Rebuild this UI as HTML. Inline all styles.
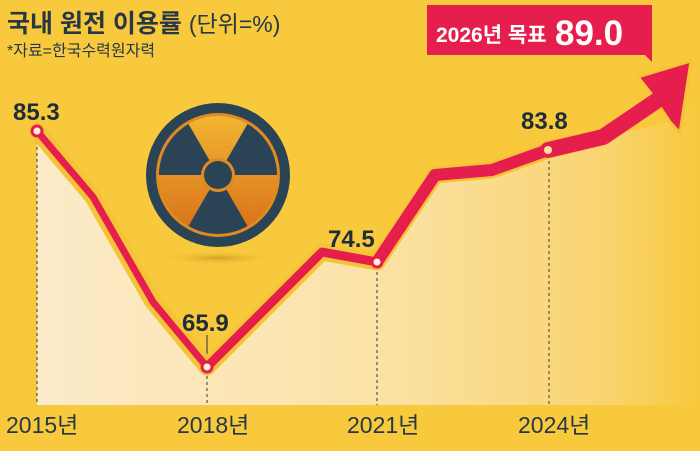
<!DOCTYPE html>
<html><head><meta charset="utf-8"><style>
html,body{margin:0;padding:0;}
body{width:700px;height:446px;overflow:hidden;background:#f8c93c;font-family:"Liberation Sans","Noto Sans CJK KR",sans-serif;}
</style></head><body>
<svg width="700" height="446" viewBox="0 0 700 446" xmlns="http://www.w3.org/2000/svg">
<defs>
<linearGradient id="cream" x1="0" x2="1" y1="0" y2="0">
<stop offset="0" stop-color="#fcebca"/><stop offset="0.5" stop-color="#fbe3a8"/><stop offset="0.85" stop-color="#f9d472"/><stop offset="1" stop-color="#f8c93c"/>
</linearGradient>
<linearGradient id="rad" x1="0" x2="0" y1="0" y2="1">
<stop offset="0" stop-color="#f2b432"/><stop offset="1" stop-color="#d8701a"/>
</linearGradient>
<radialGradient id="shad"><stop offset="0" stop-color="#c98a1a" stop-opacity="0.7"/><stop offset="1" stop-color="#f8c93c" stop-opacity="0"/></radialGradient>
</defs>
<rect width="700" height="446" fill="#f8c93c"/>
<polygon fill="url(#cream)" points="37,131 93,197 153,302 207,367 322,252 377,262 435,175 492,170 548,150 603,137 670,122 700,100 700,405 37,405"/>
<rect x="0" y="405" width="700" height="41" fill="#f8c93c"/>
<g stroke="#555" stroke-width="1.2" stroke-dasharray="3,3">
<line x1="37" y1="135" x2="37" y2="405"/><line x1="207" y1="370" x2="207" y2="405"/>
<line x1="377" y1="266" x2="377" y2="405"/><line x1="549" y1="155" x2="549" y2="405"/>
</g>
<line x1="207" y1="335" x2="207" y2="362" stroke="#333" stroke-width="1"/>
<ellipse cx="218" cy="258" rx="60" ry="7" fill="url(#shad)"/>
<circle cx="218" cy="175" r="72" fill="#2a4455"/>
<circle cx="218" cy="175" r="62" fill="#e08a22"/>
<circle cx="218" cy="175" r="59" fill="url(#rad)"/>
<g fill="#2a4455">
<path d="M218,175 L188.5,124 A59,59 0 0,0 159,175 Z"/>
<path d="M218,175 L277,175 A59,59 0 0,0 247.5,124 Z"/>
<path d="M218,175 L247.5,226 A59,59 0 0,1 188.5,226 Z"/>
</g>
<circle cx="218" cy="175" r="17" fill="#e08a22"/>
<circle cx="218" cy="175" r="14" fill="#2a4455"/>
<g fill="none" stroke-linejoin="round" stroke-linecap="round">
<polyline points="37,131 93,197 153,302 207,367 322,252 377,262 435,175 492,170 548,150 603,137 660,100" stroke="#f5c336" stroke-width="17"/>
<polyline points="37,131 93,197 153,302 207,367" stroke="#e61e4d" stroke-width="7"/>
<polyline points="207,367 322,252 377,262" stroke="#e61e4d" stroke-width="9"/>
<polyline points="377,262 435,175 492,170 548,150" stroke="#e61e4d" stroke-width="12"/>
<polyline points="548,150 603,137 662,97" stroke="#e61e4d" stroke-width="16"/>
</g>
<polygon points="691,61 638,77 650,92 670,122 680,133" fill="#e61e4d" stroke="#f5c336" stroke-width="3" stroke-linejoin="round"/>
<polyline points="603,137 662,97" stroke="#e61e4d" stroke-width="16" fill="none"/>
<g fill="#fdf3d8" stroke="#e61e4d" stroke-width="3">
<circle cx="37" cy="131" r="5"/><circle cx="207" cy="367" r="5"/><circle cx="377" cy="262" r="5"/>
</g>
<circle cx="548" cy="150" r="4" fill="#fbe3a0"/>
<polygon points="427,5 652,5 652,62 645,55 427,55" fill="#e61e4d"/>
<text x="436" y="42" font-size="21" font-weight="bold" fill="#fff" font-family="Liberation Sans Narrow,Liberation Sans,Noto Sans CJK KR,sans-serif">2026년 목표</text>
<text x="555" y="45" font-size="35" font-weight="bold" fill="#fff">89.0</text>
<text x="7" y="32" font-size="25" font-weight="bold" fill="#263845">국내 원전 이용률 <tspan font-weight="normal" font-size="23">(단위=%)</tspan></text>
<text x="7" y="56" font-size="16" fill="#263845">*자료=한국수력원자력</text>
<g font-size="24" font-weight="bold" fill="#1e2d36">
<text x="13" y="120">85.3</text><text x="182" y="331">65.9</text>
<text x="328" y="247">74.5</text><text x="521" y="129">83.8</text>
</g>
<g font-size="23" fill="#263845" font-family="Liberation Sans Narrow,Liberation Sans,Noto Sans CJK KR,sans-serif">
<text x="6" y="433">2015년</text><text x="177" y="433">2018년</text>
<text x="347" y="433">2021년</text><text x="518" y="433">2024년</text>
</g>
</svg>
</body></html>
